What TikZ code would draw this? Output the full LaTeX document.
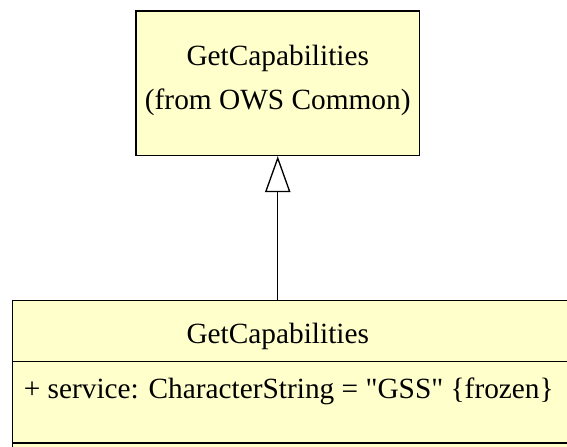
\documentclass[tikz,border=0pt]{standalone}
\usepackage{fontspec}
\setmainfont{Liberation Serif}[Ligatures=TeXOff]
\usetikzlibrary{arrows.meta}
\definecolor{umlfill}{HTML}{FFFFCC}
\tikzset{
  classbox/.style={draw=black, fill=umlfill, line width=1pt, inner sep=0pt, rectangle},
  lbl/.style={font=\fontsize{22}{26}\selectfont, inner sep=0pt, anchor=base},
  divider/.style={line width=1pt},
  gen/.style={line width=1pt, -{Triangle[open, length=27pt, width=19pt, fill=white]}},
}
\begin{document}
\begin{tikzpicture}[x=0.75pt, y=-0.75pt]
\clip (0,0) rectangle (567,446);
\useasboundingbox (0,0) rectangle (567,446);
\fill[white] (0,0) rectangle (567,446);
\node[classbox, minimum width=212.6pt, minimum height=108.4pt] (top) at (277.75,83.25) {};
\node[lbl] (t1) at (277.75,65) {GetCapabilities};
\node[lbl] (t2) at (277.75,109) {(from OWS Common)};
\node[classbox, anchor=north west, minimum width=441pt, minimum height=127.5pt] (bot) at (12,299.5) {};
\draw[divider] (12,361.7) -- (600,361.7);
\draw[divider] (12,443) -- (600,443);
\node[lbl] (b1) at (277.75,343.6) {GetCapabilities};
\node[lbl, anchor=base west] (b2) at (23.5,398) {+ service: CharacterString = "GSS" \{frozen\}};
\draw[gen] (top.south |- bot.north) -- (top.south);
\end{tikzpicture}
\end{document}
